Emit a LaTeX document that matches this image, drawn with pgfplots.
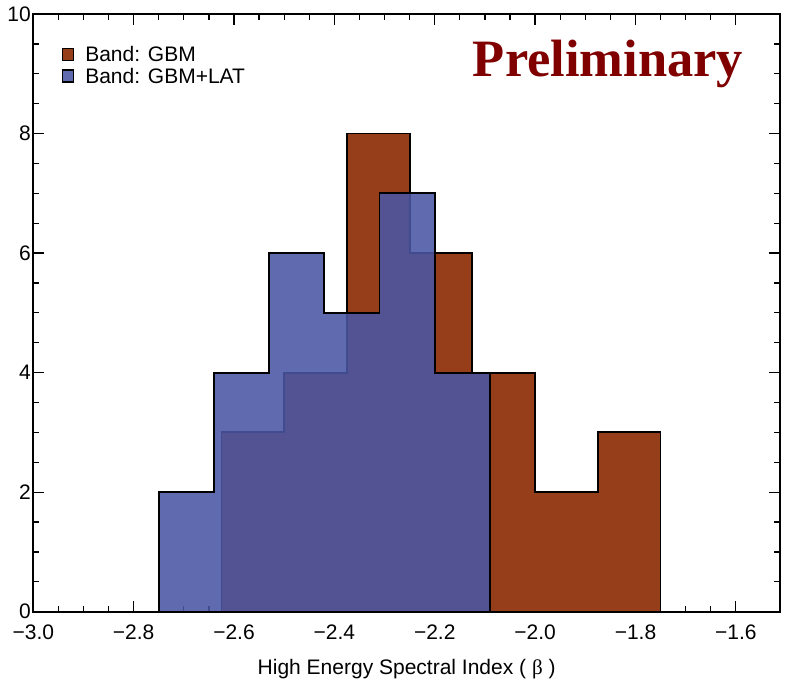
\documentclass[border=0pt]{standalone}
\usepackage{fontspec}
\setmainfont{Liberation Sans}
\newfontfamily\serifb{Liberation Serif}
\usepackage{pgfplots}
\pgfplotsset{compat=1.18}
\definecolor{gbmbrown}{RGB}{150,62,26}
\definecolor{latblue}{RGB}{74,86,164}
\definecolor{prelim}{RGB}{128,0,0}
\begin{document}
\begin{tikzpicture}
\begin{axis}[
  scale only axis,
  width=746.7pt, height=597.7pt,
  xmin=-3.0, xmax=-1.512, ymin=0, ymax=10,
  axis line style={line width=1.6pt},
  every tick/.style={black, line width=1.3pt},
  tick align=inside,
  major tick length=11pt, minor tick length=6pt,
  xtick={-3.0,-2.8,-2.6,-2.4,-2.2,-2.0,-1.8,-1.6},
  xticklabels={−3.0,−2.8,−2.6,−2.4,−2.2,−2.0,−1.8,−1.6},
  minor x tick num=3,
  ytick={0,2,4,6,8,10},
  minor y tick num=3,
  tick label style={font=\fontsize{21}{21}\selectfont},
  xticklabel style={yshift=-10pt},
  yticklabel style={xshift=1pt},
  /pgf/number format/assume math mode=true,
  xlabel={High Energy Spectral Index ( {\serifb β} )},
  xlabel style={font=\fontsize{21}{21}\selectfont, yshift=-12pt},
  legend style={draw=none, fill=none, at={(rel axis cs:0.0375,0.95)}, anchor=north west,
    font=\fontsize{21}{21}\selectfont, row sep=1pt, column sep=9pt, inner sep=0pt,
    legend cell align=left},
  legend image code/.code={\fill[#1] (0pt,-6pt) rectangle (11pt,6pt);},
  clip=false,
]
\addplot[const plot, fill=gbmbrown, draw=black, line width=1.8pt]
  coordinates {(-2.625,3) (-2.500,4) (-2.375,8) (-2.250,6) (-2.125,4) (-2.000,2) (-1.875,3) (-1.750,3)} \closedcycle;
\addlegendentry{Band: GBM}
\addplot[const plot, fill=latblue, fill opacity=0.88, draw=black, line width=1.8pt]
  coordinates {(-2.750,2) (-2.640,4) (-2.530,6) (-2.420,5) (-2.310,7) (-2.200,4) (-2.090,4)} \closedcycle;
\addlegendentry{Band: GBM+LAT}
\node[anchor=base west, inner sep=0pt, text=prelim, font=\serifb\bfseries\fontsize{52.5}{52.5}\selectfont]
  at (rel axis cs:0.5885,0.895) {Preliminary};
\end{axis}
\path (current axis.south west) ++(-33.3pt,-63.3pt) coordinate (bbA);
\path (current axis.north east) ++(7pt,14pt) coordinate (bbB);
\useasboundingbox (bbA) rectangle (bbB);
\end{tikzpicture}
\end{document}
